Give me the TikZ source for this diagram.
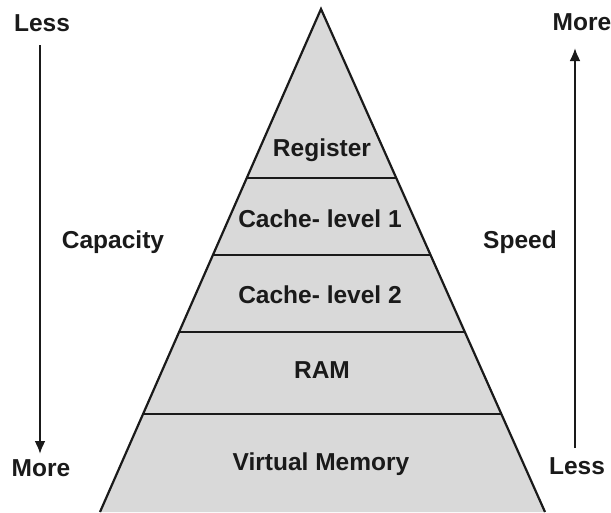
\documentclass[tikz,border=0pt]{standalone}
\usepackage{fontspec}
\setmainfont{Liberation Sans}
\usetikzlibrary{calc,arrows.meta}
\definecolor{layerfill}{HTML}{D9D9D9}
\definecolor{ink}{HTML}{1A1A1A}
\begin{document}
\begin{tikzpicture}[x=1pt,y=-1pt,
  lbl/.style={font=\fontsize{24.5}{26}\selectfont\bfseries, text=ink, inner sep=0pt, text height=17.6pt, text depth=0pt, anchor=center},
  edge/.style={draw=ink, line width=2.2pt},
  arr/.style={draw=ink, line width=2.2pt, -{Latex[length=13pt,width=11pt]}}]
\useasboundingbox (0,0) rectangle (611,512);
\coordinate (A) at (321,9);
\coordinate (BL) at (100,512);
\coordinate (BR) at (545,512);
\fill[layerfill] (A) -- (BL) -- (BR) -- cycle;
\foreach \t/\n in {0.336/a,0.489/b,0.642/c,0.805/d}{
  \coordinate (L\n) at ($(A)!\t!(BL)$);
  \coordinate (R\n) at ($(A)!\t!(BR)$);
  \draw[edge] (L\n) -- (R\n);
}
\draw[edge, line join=miter] (BL) -- (A) -- (BR);
% layer labels
\node[lbl] (reg) at (322,148) {Register};
\node[lbl] (c1) at (320,219) {Cache- level 1};
\node[lbl] (c2) at (320,295) {Cache- level 2};
\node[lbl] (ram) at (322,370) {RAM};
\node[lbl] (vm) at (321,462) {Virtual Memory};
% side labels
\node[lbl] (lessL) at (42,23) {Less};
\node[lbl] (moreL) at (41,468) {More};
\node[lbl] (cap) at (113,240) {Capacity};
\node[lbl] (moreR) at (582,22) {More};
\node[lbl] (lessR) at (577,466) {Less};
\node[lbl] (spd) at (520,240) {Speed};
\coordinate (axL) at (40,0);
\coordinate (axR) at (575,0);
\draw[arr] ([yshift=-13pt]lessL.south -| axL) -- ([yshift=5pt]moreL.north -| axL);
\draw[arr] ([yshift=9pt]lessR.north -| axR) -- ([yshift=-17pt]moreR.south -| axR);
\end{tikzpicture}
\end{document}
